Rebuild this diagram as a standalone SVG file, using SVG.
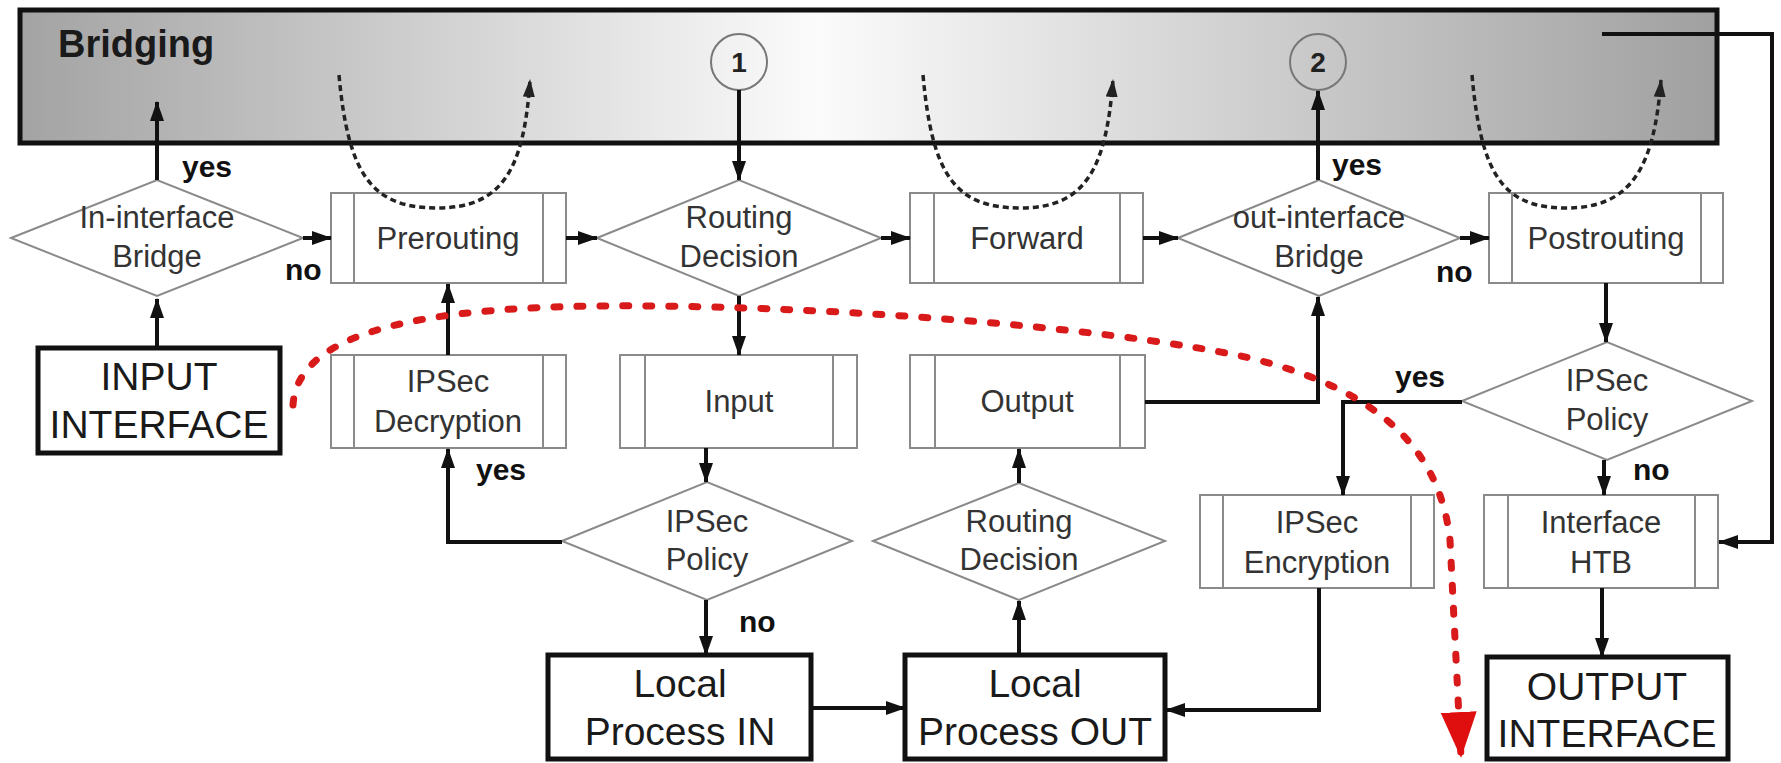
<svg xmlns="http://www.w3.org/2000/svg" width="1781" height="763" viewBox="0 0 1781 763">
<defs>
<linearGradient id="barg" x1="0" y1="0" x2="1" y2="0">
<stop offset="0" stop-color="#a3a3a3"/>
<stop offset="0.47" stop-color="#fbfbfb"/>
<stop offset="1" stop-color="#a0a0a0"/>
</linearGradient>
<marker id="ah" viewBox="0 0 20 14" refX="19" refY="7" markerWidth="20" markerHeight="14" markerUnits="userSpaceOnUse" orient="auto">
<path d="M0,0 L20,7 L0,14 Z" fill="#111"/>
</marker>
<marker id="ahd" viewBox="0 0 18 12" refX="17" refY="6" markerWidth="18" markerHeight="12" markerUnits="userSpaceOnUse" orient="auto">
<path d="M0,0 L18,6 L0,12 Z" fill="#222"/>
</marker>
<marker id="ahr" viewBox="0 0 46 36" refX="45" refY="18" markerWidth="46" markerHeight="36" markerUnits="userSpaceOnUse" orient="auto">
<path d="M0,0 L46,18 L0,36 Z" fill="#e00f0f"/>
</marker>
<style>
.box{fill:#fff;stroke:#8a8a8a;stroke-width:2}
.in{fill:none;stroke:#8a8a8a;stroke-width:2}
.dia{fill:#fff;stroke:#8a8a8a;stroke-width:2}
.thick{fill:#fff;stroke:#111;stroke-width:5}
.lbl{font-family:"Liberation Sans",Arial,sans-serif;font-size:31px;fill:#333;text-anchor:middle}
.big{font-family:"Liberation Sans",Arial,sans-serif;font-size:39px;fill:#1a1a1a;text-anchor:middle}
.yn{font-family:"Liberation Sans",Arial,sans-serif;font-weight:bold;font-size:30px;fill:#111}
.con{fill:none;stroke:#111;stroke-width:4}
.dash{fill:none;stroke:#222;stroke-width:3.5;stroke-dasharray:6 4}
.red{fill:none;stroke:#d91a1a;stroke-width:7;stroke-dasharray:6 17;stroke-linecap:round}
.circ{fill:none;stroke:#777;stroke-width:2}
.num{font-family:"Liberation Sans",Arial,sans-serif;font-weight:bold;font-size:28px;fill:#222;text-anchor:middle}
</style>
</defs>
<rect width="1781" height="763" fill="#fff"/>

<g id="bridging">
<rect x="20" y="10" width="1697" height="133" fill="url(#barg)" stroke="#111" stroke-width="5"/>
<text x="58" y="57" font-family="Liberation Sans, Arial, sans-serif" font-weight="bold" font-size="38" fill="#1a1a1a">Bridging</text>
</g>
<g id="circle1"><circle class="circ" cx="739" cy="62" r="28"/><text class="num" x="739" y="72">1</text></g>
<g id="circle2"><circle class="circ" cx="1318" cy="62" r="28"/><text class="num" x="1318" y="72">2</text></g>

<g id="in-interface-bridge"><path class="dia" d="M11,238 L157,180 L303,238 L157,296 Z"/><text class="lbl" x="157" y="228">In-interface</text><text class="lbl" x="157" y="267">Bridge</text></g>
<g id="prerouting"><rect class="box" x="331" y="193" width="235" height="90"/><path class="in" d="M354,193 V283 M543,193 V283"/><text class="lbl" x="448" y="249">Prerouting</text></g>
<g id="routing-decision"><path class="dia" d="M597,238 L739,180 L881,238 L739,296 Z"/><text class="lbl" x="739" y="228">Routing</text><text class="lbl" x="739" y="267">Decision</text></g>
<g id="forward"><rect class="box" x="910" y="193" width="233" height="90"/><path class="in" d="M934,193 V283 M1120,193 V283"/><text class="lbl" x="1027" y="249">Forward</text></g>
<g id="out-interface-bridge"><path class="dia" d="M1178,238 L1319,180 L1460,238 L1319,296 Z"/><text class="lbl" x="1319" y="228">out-interface</text><text class="lbl" x="1319" y="267">Bridge</text></g>
<g id="postrouting"><rect class="box" x="1489" y="193" width="234" height="90"/><path class="in" d="M1512,193 V283 M1701,193 V283"/><text class="lbl" x="1606" y="249">Postrouting</text></g>

<g id="input-interface"><rect class="thick" x="38" y="348" width="242" height="105"/><text class="big" x="159" y="390">INPUT</text><text class="big" x="159" y="438">INTERFACE</text></g>
<g id="ipsec-decryption"><rect class="box" x="331" y="355" width="235" height="93"/><path class="in" d="M354,355 V448 M543,355 V448"/><text class="lbl" x="448" y="392">IPSec</text><text class="lbl" x="448" y="432">Decryption</text></g>
<g id="input"><rect class="box" x="620" y="355" width="237" height="93"/><path class="in" d="M645,355 V448 M833,355 V448"/><text class="lbl" x="739" y="412">Input</text></g>
<g id="output"><rect class="box" x="910" y="355" width="235" height="93"/><path class="in" d="M935,355 V448 M1120,355 V448"/><text class="lbl" x="1027" y="412">Output</text></g>
<g id="ipsec-policy-out"><path class="dia" d="M1462,401 L1607,342 L1752,401 L1607,460 Z"/><text class="lbl" x="1607" y="391">IPSec</text><text class="lbl" x="1607" y="430">Policy</text></g>

<g id="ipsec-policy-in"><path class="dia" d="M562,541 L707,482 L852,541 L707,600 Z"/><text class="lbl" x="707" y="532">IPSec</text><text class="lbl" x="707" y="570">Policy</text></g>
<g id="routing-decision-out"><path class="dia" d="M873,541 L1019,483 L1165,541 L1019,600 Z"/><text class="lbl" x="1019" y="532">Routing</text><text class="lbl" x="1019" y="570">Decision</text></g>
<g id="ipsec-encryption"><rect class="box" x="1200" y="495" width="234" height="93"/><path class="in" d="M1223,495 V588 M1411,495 V588"/><text class="lbl" x="1317" y="533">IPSec</text><text class="lbl" x="1317" y="573">Encryption</text></g>
<g id="interface-htb"><rect class="box" x="1484" y="495" width="234" height="93"/><path class="in" d="M1508,495 V588 M1695,495 V588"/><text class="lbl" x="1601" y="533">Interface</text><text class="lbl" x="1601" y="573">HTB</text></g>

<g id="local-process-in"><rect class="thick" x="548" y="655" width="263" height="104"/><text class="big" x="680" y="697">Local</text><text class="big" x="680" y="745">Process IN</text></g>
<g id="local-process-out"><rect class="thick" x="905" y="655" width="260" height="104"/><text class="big" x="1035" y="697">Local</text><text class="big" x="1035" y="745">Process OUT</text></g>
<g id="output-interface"><rect class="thick" x="1487" y="657" width="241" height="102"/><text class="big" x="1607" y="700">OUTPUT</text><text class="big" x="1607" y="747">INTERFACE</text></g>

<g id="connectors">
<path class="con" marker-end="url(#ah)" d="M157,180 V102"/>
<path class="con" marker-end="url(#ah)" d="M157,348 V299"/>
<path class="con" marker-end="url(#ah)" d="M303,238 H331"/>
<path class="con" marker-end="url(#ah)" d="M566,238 H597"/>
<path class="con" marker-end="url(#ah)" d="M739,90 V180"/>
<path class="con" marker-end="url(#ah)" d="M881,238 H910"/>
<path class="con" marker-end="url(#ah)" d="M1143,238 H1178"/>
<path class="con" marker-end="url(#ah)" d="M1318,180 V91"/>
<path class="con" marker-end="url(#ah)" d="M1460,238 H1489"/>
<path class="con" marker-end="url(#ah)" d="M739,296 V355"/>
<path class="con" marker-end="url(#ah)" d="M448,355 V284"/>
<path class="con" marker-end="url(#ah)" d="M1145,402 H1318 V297"/>
<path class="con" marker-end="url(#ah)" d="M1606,283 V342"/>
<path class="con" marker-end="url(#ah)" d="M1462,402 H1343 V495"/>
<path class="con" marker-end="url(#ah)" d="M1604,460 V495"/>
<path class="con" marker-end="url(#ah)" d="M1602,34 H1772 V542 H1719"/>
<path class="con" marker-end="url(#ah)" d="M1602,588 V657"/>
<path class="con" marker-end="url(#ah)" d="M706,448 V482"/>
<path class="con" marker-end="url(#ah)" d="M562,542 H448 V449"/>
<path class="con" marker-end="url(#ah)" d="M706,600 V655"/>
<path class="con" marker-end="url(#ah)" d="M1019,483 V449"/>
<path class="con" marker-end="url(#ah)" d="M1019,655 V601"/>
<path class="con" marker-end="url(#ah)" d="M811,708 H905"/>
<path class="con" marker-end="url(#ah)" d="M1319,588 V710 H1166"/>
<path class="dash" marker-end="url(#ahd)" d="M339,75 C348,175 372,208 437,208 C502,208 524,170 530,80"/>
<path class="dash" marker-end="url(#ahd)" d="M923,75 C932,175 955,208 1020,208 C1085,208 1106,170 1113,80"/>
<path class="dash" marker-end="url(#ahd)" d="M1472,75 C1481,175 1503,208 1566,208 C1630,208 1654,170 1661,80"/>
<path class="red" marker-end="url(#ahr)" d="M293,405 C297,345 380,308 600,306 C800,304 1100,325 1250,358 C1380,390 1440,450 1450,540 L1461,757"/>
<text class="yn" x="182" y="177">yes</text>
<text class="yn" x="285" y="280">no</text>
<text class="yn" x="1332" y="175">yes</text>
<text class="yn" x="1436" y="282">no</text>
<text class="yn" x="476" y="480">yes</text>
<text class="yn" x="1395" y="387">yes</text>
<text class="yn" x="1633" y="480">no</text>
<text class="yn" x="739" y="632">no</text>
</g>
</svg>
